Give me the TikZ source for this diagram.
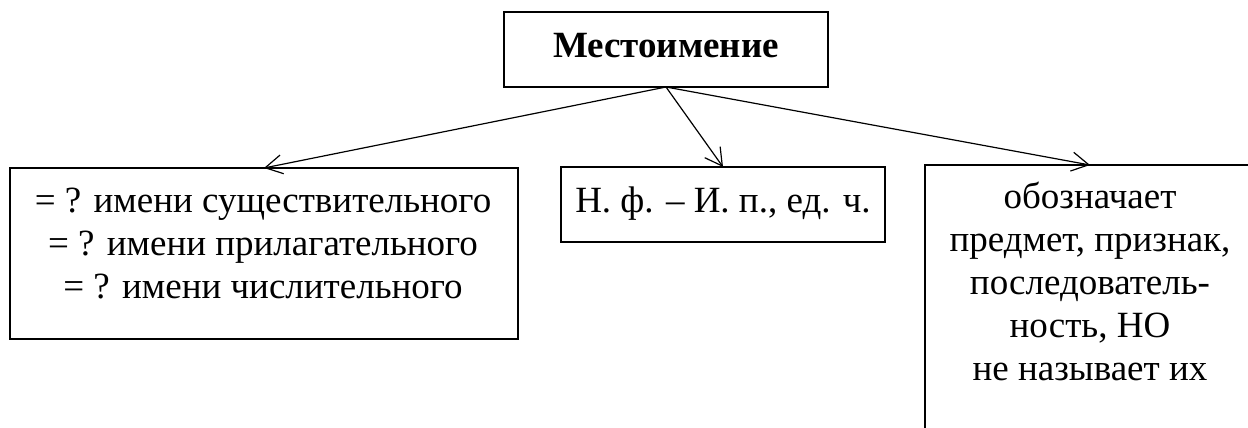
\documentclass[tikz,border=0pt]{standalone}
\usepackage{fontspec}
\setmainfont{Liberation Serif}
\usetikzlibrary{arrows.meta}
\begin{document}
\begin{tikzpicture}[x=1pt,y=-1pt,
  box/.style={draw, line width=1.2pt, inner sep=0pt, outer sep=0pt},
  txt/.style={font=\fontsize{37}{43}\selectfont, align=center, inner sep=0pt, anchor=base},
  link/.style={line width=1.2pt, -{Straight Barb[length=17pt,width=19pt]}}]
\useasboundingbox (0,0) rectangle (1248,428);
\clip (0,0) rectangle (1248,428);
\node[box, minimum width=324pt, minimum height=75pt] (top) at (666,49.5) {};
\node[box, minimum width=508pt, minimum height=171pt] (left) at (264,253.5) {};
\node[box, minimum width=324pt, minimum height=75pt] (mid) at (723,204.5) {};
\node[box, minimum width=330pt, minimum height=315pt] (right) at (1090,322.5) {};
\node[txt, font=\fontsize{37}{43}\selectfont\bfseries] (ttop) at (666,58) {Местоимение};
\node[txt] (tleft) at (263,298) {= ? имени существительного\\= ? имени прилагательного\\= ? имени числительного};
\node[txt] (tmid) at (723,212) {Н. ф. – И. п., ед. ч.};
\node[txt] (tright) at (1090,380) {обозначает\\предмет, признак,\\последователь-\\ность, НО\\не называет их};
\draw[link] (top.south) -- (left.north);
\draw[link] (top.south) -- (mid.north);
\draw[link] (top.south) -- (right.north);
\end{tikzpicture}
\end{document}
